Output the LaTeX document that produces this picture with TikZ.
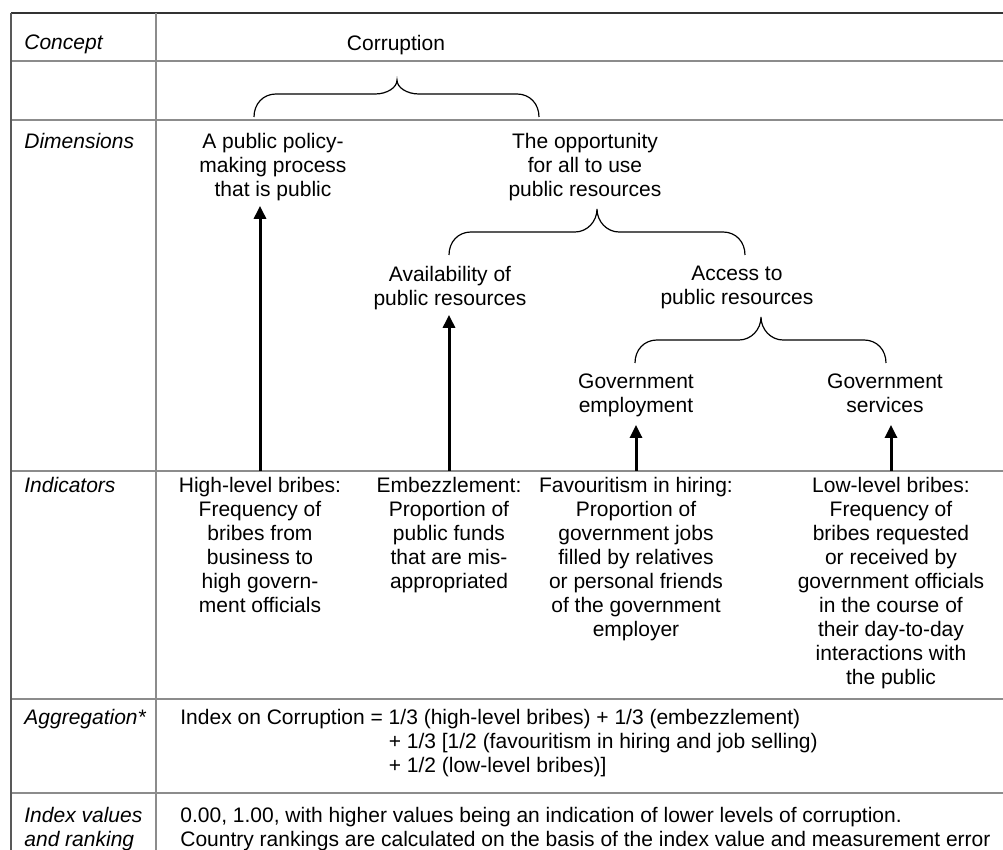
\documentclass[tikz,border=0pt]{standalone}
\usepackage{fontspec}
\setmainfont{Liberation Sans}
\usetikzlibrary{arrows.meta}

\tikzset{
  rowline/.style={line width=1pt, draw=black!45},
  cell/.style={align=center, anchor=north, inner sep=0pt, font=\fontsize{10.5}{12}\selectfont},
  rowhead/.style={align=left, anchor=north west, inner sep=0pt, font=\fontsize{10.5}{12}\selectfont\itshape},
  uparrow/.style={line width=1.5pt, -{Triangle[width=6pt,length=6.5pt]}, shorten <=2.75pt, shorten >=2.5pt},
  bracket/.style={line width=0.6pt}
}

% left x, right x, tip x, end y, tip height
\newcommand{\curlybrace}[5]{%
  \draw[bracket] (#1,#4) .. controls (#1,{#4-13}) and ({#1+9},{#4-23}) .. ({#1+22},{#4-23})
    -- ({#3-22},{#4-23}) .. controls ({#3-10},{#4-23}) and (#3,{#4-23-#5*0.45}) .. (#3,{#4-23-#5})
    .. controls (#3,{#4-23-#5*0.45}) and ({#3+10},{#4-23}) .. ({#3+22},{#4-23})
    -- ({#2-22},{#4-23}) .. controls ({#2-9},{#4-23}) and (#2,{#4-13}) .. (#2,#4);
}

\begin{document}
\begin{tikzpicture}[x=0.5pt, y=-0.5pt]
	\useasboundingbox (0,0) rectangle (1003,850);

	% table rules
	\draw[rowline, draw=black!80] (11,13) -- (1003,13);
	\foreach \y in {61,120,471,699,793}
		\draw[rowline] (11,\y) -- (1003,\y);
	\draw[rowline, draw=black!65] (11,13) -- (11,850);
	\draw[rowline] (156,13) -- (156,850);

	% row headings
	\node[rowhead] (hcon) at (24,34.5) {Concept};
	\node[rowhead] (hdim) at (24,132.5) {Dimensions};
	\node[rowhead] (hind) at (24,476.5) {Indicators};
	\node[rowhead] (hagg) at (24,708.5) {Aggregation*};
	\node[rowhead] (hidx) at (24,806.5) {Index values\\and ranking};

	% concept and dimensions
	\node[cell] (corr) at (396,34.5) {Corruption};
	\node[cell] (dpol) at (273,132.5) {A public policy-\\making process\\that is public};
	\node[cell] (dopp) at (585,132.5) {The opportunity\\for all to use\\public resources};
	\node[cell] (davl) at (450,265.5) {Availability of\\public resources};
	\node[cell] (dacc) at (737,265.5) {Access to\\public resources};
	\node[cell] (demp) at (636,373.5) {Government\\employment};
	\node[cell] (dsrv) at (885,373.5) {Government\\services};

	\curlybrace{254}{539}{397}{117}{14}
	\curlybrace{449}{745}{597}{255}{23}
	\curlybrace{635}{886}{761}{363}{23}

	% indicators
	\node[cell] (ihigh) at (260,476.5) {High-level bribes:\\Frequency of\\bribes from\\business to\\high govern-\\ment officials};
	\node[cell] (iemb) at (449,476.5) {Embezzlement:\\Proportion of\\public funds\\that are mis-\\appropriated};
	\node[cell] (ifav) at (636,476.5) {Favouritism in hiring:\\Proportion of\\government jobs\\filled by relatives\\or personal friends\\of the government\\employer};
	\node[cell] (ilow) at (891,476.5) {Low-level bribes:\\Frequency of\\bribes requested\\or received by\\government officials\\in the course of\\their day-to-day\\interactions with\\the public};

	\draw[uparrow] (ihigh.north) -- (ihigh.north |- dpol.south);
	\draw[uparrow] (iemb.north) -- (iemb.north |- davl.south);
	\draw[uparrow, shorten >=3.8pt] (ifav.north) -- (ifav.north |- demp.south);
	\draw[uparrow, shorten >=3.8pt] (ilow.north) -- (ilow.north |- demp.south);

	% aggregation and index
	\node[cell, align=left, anchor=north west] (agg) at (180,708.5) {Index on Corruption = 1/3 (high-level bribes) + 1/3 (embezzlement)\\
		\hphantom{Index on Corruption = }+ 1/3 [1/2 (favouritism in hiring and job selling)\\
		\hphantom{Index on Corruption = }+ 1/2 (low-level bribes)]};
	\node[cell, align=left, anchor=north west] (idx) at (180,806.5) {0.00, 1.00, with higher values being an indication of lower levels of corruption.\\
		Country rankings are calculated on the basis of the index value and measurement error};
\end{tikzpicture}
\end{document}
